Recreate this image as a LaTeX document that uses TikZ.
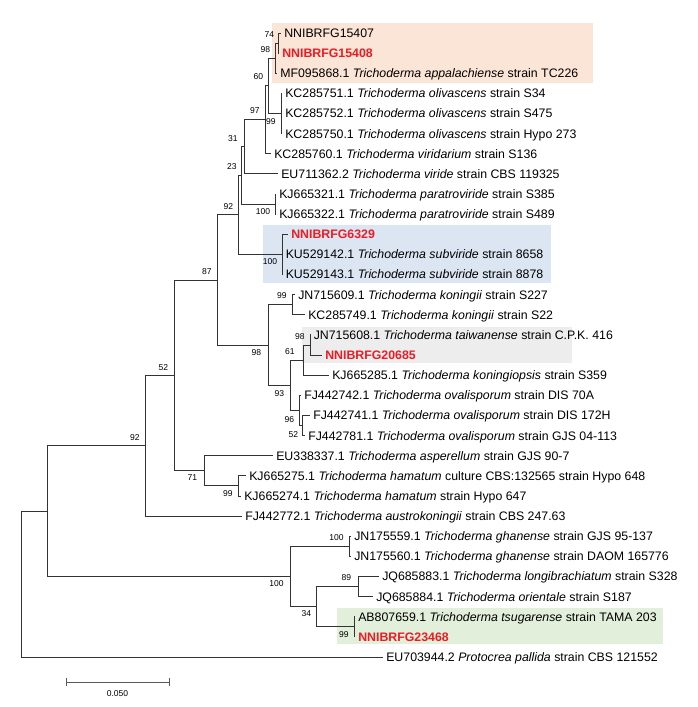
\documentclass[tikz,border=0pt]{standalone}
\usepackage{fontspec}
\setmainfont{Liberation Sans}
\usepackage{xcolor}
\usepackage{tikz}
\usetikzlibrary{calc}

\definecolor{isored}{RGB}{235,28,36}
\definecolor{boxorange}{RGB}{251,229,214}
\definecolor{boxblue}{RGB}{220,230,243}
\definecolor{boxgray}{RGB}{237,237,237}
\definecolor{boxgreen}{RGB}{226,239,218}

\newcommand{\tri}[1]{\textit{Trichoderma #1}}

\tikzset{
  taxon/.style={anchor=west, inner xsep=2.25pt, inner ysep=0pt, text height=6.6pt, text depth=0pt, font=\fontsize{9.25}{10}\selectfont},
  isolate/.style={taxon, text=isored, font=\fontsize{9.25}{10}\selectfont\bfseries},
  branch/.style={draw=black!80, line width=0.7pt},
  bsup/.style={anchor=south east, inner sep=0pt, font=\fontsize{6.4}{7}\selectfont},
  bsdn/.style={anchor=north east, inner sep=0pt, font=\fontsize{6.4}{7}\selectfont},
}

\begin{document}
\begin{tikzpicture}[x=0.75pt,y=0.75pt,yscale=-1,xscale=1]

\useasboundingbox (0,0) rectangle (697,707);

% highlight boxes
\fill[boxorange] (272,23) rectangle (593,83);
\fill[boxblue] (263,225) rectangle (551,283);
\fill[boxgray] (302,327) rectangle (572,363);
\fill[boxgreen] (337,608) rectangle (663,644);

% taxa
\node[taxon] (l0) at (281,33.00) {NNIBRFG15407};
\node[isolate] (l1) at (279,53.13) {NNIBRFG15408};
\node[taxon] (l2) at (277,73.26) {MF095868.1 \tri{appalachiense} strain TC226};
\node[taxon] (l3) at (282,93.39) {KC285751.1 \tri{olivascens} strain S34};
\node[taxon] (l4) at (282,113.52) {KC285752.1 \tri{olivascens} strain S475};
\node[taxon] (l5) at (282,133.65) {KC285750.1 \tri{olivascens} strain Hypo 273};
\node[taxon] (l6) at (271,153.78) {KC285760.1 \tri{viridarium} strain S136};
\node[taxon] (l7) at (278,173.91) {EU711362.2 \tri{viride} strain CBS 119325};
\node[taxon] (l8) at (276,194.04) {KJ665321.1 \tri{paratroviride} strain S385};
\node[taxon] (l9) at (276,214.17) {KJ665322.1 \tri{paratroviride} strain S489};
\node[isolate] (l10) at (288,234.30) {NNIBRFG6329};
\node[taxon] (l11) at (282.5,254.43) {KU529142.1 \tri{subviride} strain 8658};
\node[taxon] (l12) at (282.5,274.56) {KU529143.1 \tri{subviride} strain 8878};
\node[taxon] (l13) at (295,294.69) {JN715609.1 \tri{koningii} strain S227};
\node[taxon] (l14) at (305,314.82) {KC285749.1 \tri{koningii} strain S22};
\node[taxon] (l15) at (310.5,334.95) {JN715608.1 \tri{taiwanense} strain C.P.K. 416};
\node[isolate] (l16) at (322,355.08) {NNIBRFG20685};
\node[taxon] (l17) at (329,375.21) {KJ665285.1 \tri{koningiopsis} strain S359};
\node[taxon] (l18) at (301,395.34) {FJ442742.1 \tri{ovalisporum} strain DIS 70A};
\node[taxon] (l19) at (310,415.47) {FJ442741.1 \tri{ovalisporum} strain DIS 172H};
\node[taxon] (l20) at (305,435.60) {FJ442781.1 \tri{ovalisporum} strain GJS 04-113};
\node[taxon] (l21) at (273,455.73) {EU338337.1 \tri{asperellum} strain GJS 90-7};
\node[taxon] (l22) at (246,475.86) {KJ665275.1 \tri{hamatum} culture CBS:132565 strain Hypo 648};
\node[taxon] (l23) at (241,495.99) {KJ665274.1 \tri{hamatum} strain Hypo 647};
\node[taxon] (l24) at (242,516.12) {FJ442772.1 \tri{austrokoningii} strain CBS 247.63};
\node[taxon] (l25) at (351,536.25) {JN175559.1 \tri{ghanense} strain GJS 95-137};
\node[taxon] (l26) at (351,556.38) {JN175560.1 \tri{ghanense} strain DAOM 165776};
\node[taxon] (l27) at (379,576.51) {JQ685883.1 \tri{longibrachiatum} strain S328};
\node[taxon] (l28) at (373,596.64) {JQ685884.1 \tri{orientale} strain S187};
\node[taxon] (l29) at (355,616.77) {AB807659.1 \tri{tsugarense} strain TAMA 203};
\node[isolate] (l30) at (355,636.90) {NNIBRFG23468};
\node[taxon] (l31) at (383,657.03) {EU703944.2 \textit{Protocrea pallida} strain CBS 121552};

% internal nodes
\coordinate (n74) at (278,43.07);
\coordinate (n98a) at (275,58.16);
\coordinate (nolv) at (281,113.52);
\coordinate (n60) at (268,85.84);
\coordinate (n97) at (265,119.81);
\coordinate (n31) at (244,146.86);
\coordinate (npar) at (275,204.10);
\coordinate (n23) at (241,175.48);
\coordinate (nsub) at (282,254.43);
\coordinate (n92) at (238,214.96);
\coordinate (nkon) at (292,304.76);
\coordinate (ntai) at (310,345.02);
\coordinate (n61) at (303,360.11);
\coordinate (n52) at (302,425.54);
\coordinate (n96) at (299,410.44);
\coordinate (n93) at (290,385.28);
\coordinate (n98b) at (268,345.02);
\coordinate (n87) at (217,279.99);
\coordinate (nham) at (238,485.93);
\coordinate (n71) at (204,470.83);
\coordinate (n52b) at (174,375.41);
\coordinate (n92b) at (145,445.77);
\coordinate (ngh) at (349,546.32);
\coordinate (n89) at (358,586.58);
\coordinate (ntsu) at (354,626.84);
\coordinate (n34) at (316,606.71);
\coordinate (n100) at (290,576.52);
\coordinate (nA) at (47,511.15);
\coordinate (root) at (21,584.09);

% branches
\draw[branch] (n74) |- (l0.west) (n74) |- (l1.west);
\draw[branch] (n98a) |- (n74) (n98a) |- (l2.west);
\draw[branch] (nolv) |- (l3.west) (nolv) |- (l4.west) (nolv) |- (l5.west);
\draw[branch] (n60) |- (n98a) (n60) |- (nolv);
\draw[branch] (n97) |- (n60) (n97) |- (l6.west);
\draw[branch] (n31) |- (n97) (n31) |- (l7.west);
\draw[branch] (npar) |- (l8.west) (npar) |- (l9.west);
\draw[branch] (n23) |- (n31) (n23) |- (npar);
\draw[branch] (nsub) |- (l10.west) (nsub) |- (l11.west) (nsub) |- (l12.west);
\draw[branch] (n92) |- (n23) (n92) |- (nsub);
\draw[branch] (nkon) |- (l13.west) (nkon) |- (l14.west);
\draw[branch] (ntai) |- (l15.west) (ntai) |- (l16.west);
\draw[branch] (n61) |- (ntai) (n61) |- (l17.west);
\draw[branch] (n52) |- (l19.west) (n52) |- (l20.west);
\draw[branch] (n96) |- (l18.west) (n96) |- (n52);
\draw[branch] (n93) |- (n61) (n93) |- (n96);
\draw[branch] (n98b) |- (nkon) (n98b) |- (n93);
\draw[branch] (n87) |- (n92) (n87) |- (n98b);
\draw[branch] (nham) |- (l22.west) (nham) |- (l23.west);
\draw[branch] (n71) |- (l21.west) (n71) |- (nham);
\draw[branch] (n52b) |- (n87) (n52b) |- (n71);
\draw[branch] (n92b) |- (n52b) (n92b) |- (l24.west);
\draw[branch] (ngh) |- (l25.west) (ngh) |- (l26.west);
\draw[branch] (n89) |- (l27.west) (n89) |- (l28.west);
\draw[branch] (ntsu) |- (l29.west) (ntsu) |- (l30.west);
\draw[branch] (n34) |- (n89) (n34) |- (ntsu);
\draw[branch] (n100) |- (ngh) (n100) |- (n34);
\draw[branch] (nA) |- (n92b) (nA) |- (n100);
\draw[branch] (root) |- (nA) (root) |- (l31.west);

% bootstrap values
\node[bsup] (b74) at ($(n74)+(-3.5,-5.5)$) {74};
\node[bsup] (b98a) at ($(n98a)+(-4.5,-5.5)$) {98};
\node[bsup] (b60) at ($(n60)+(-4.5,-5.5)$) {60};
\node[bsdn] (bolv) at ($(nolv)+(-5,5)$) {99};
\node[bsup] (b97) at ($(n97)+(-5,-5.5)$) {97};
\node[bsup] (b31) at ($(n31)+(-6,-5.5)$) {31};
\node[bsup] (b23) at ($(n23)+(-4,-5.5)$) {23};
\node[bsdn] (bpar) at ($(npar)+(-4.5,4)$) {100};
\node[bsup] (b92) at ($(n92)+(-4.5,-5.5)$) {92};
\node[bsdn] (bsub) at ($(nsub)+(-4.5,4)$) {100};
\node[bsup] (b87) at ($(n87)+(-5,-5)$) {87};
\node[bsup] (bkon) at ($(nkon)+(-5,-5.5)$) {99};
\node[bsup] (btai) at ($(ntai)+(-5,-5.5)$) {98};
\node[bsup] (b61) at ($(n61)+(-8,-5.5)$) {61};
\node[bsdn] (b52) at ($(n52)+(-3.5,6)$) {52};
\node[bsdn] (b96) at ($(n96)+(-4.5,6)$) {96};
\node[bsdn] (b93) at ($(n93)+(-5.5,5)$) {93};
\node[bsdn] (b98b) at ($(n98b)+(-6.5,4)$) {98};
\node[bsup] (b52b) at ($(n52b)+(-5.5,-5)$) {52};
\node[bsup] (b92b) at ($(n92b)+(-5,-5)$) {92};
\node[bsdn] (b71) at ($(n71)+(-6.5,4)$) {71};
\node[bsdn] (bham) at ($(nham)+(-5,4)$) {99};
\node[bsup] (bgh) at ($(ngh)+(-5,-5)$) {100};
\node[bsup] (b89) at ($(n89)+(-6.5,-5.5)$) {89};
\node[bsdn] (btsu) at ($(ntsu)+(-5,4)$) {99};
\node[bsdn] (b34) at ($(n34)+(-4.5,4)$) {34};
\node[bsdn] (b100) at ($(n100)+(-6,4)$) {100};

% scale bar
\coordinate (sbl) at (66,682);
\coordinate (sbr) at (169,682);
\draw[branch, draw=black!65] (sbl) -- (sbr);
\draw[branch, draw=black!65] ($(sbl)+(0,-4)$) -- ($(sbl)+(0,4)$);
\draw[branch, draw=black!65] ($(sbr)+(0,-4)$) -- ($(sbr)+(0,4)$);
\node[inner sep=0pt, font=\fontsize{6.4}{7}\selectfont] (sbtxt) at (117.5,694) {0.050};

\end{tikzpicture}
\end{document}
